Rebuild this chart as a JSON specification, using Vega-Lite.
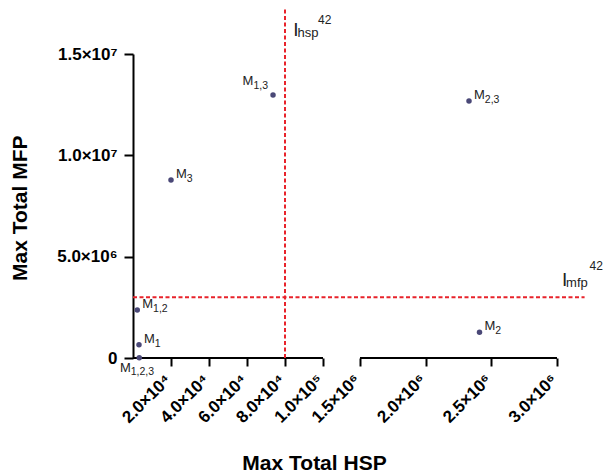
{
  "$schema": "https://vega.github.io/schema/vega-lite/v6.json",
  "width": 424,
  "height": 304,
  "autosize": {"type": "none"},
  "padding": {"left": 133, "top": 54, "right": 46, "bottom": 116},
  "background": "white",
  "config": {"view": {"stroke": null}, "font": "Liberation Sans"},
  "datasets": {
    "points": [
      {"model": "M", "sub": "1,2,3", "hsp": 3300, "mfp": 10000},
      {"model": "M", "sub": "1", "hsp": 3150, "mfp": 650000},
      {"model": "M", "sub": "1,2", "hsp": 2250, "mfp": 2370000},
      {"model": "M", "sub": "3", "hsp": 20000, "mfp": 8780000},
      {"model": "M", "sub": "1,3", "hsp": 73700, "mfp": 12980000},
      {"model": "M", "sub": "2,3", "hsp": 2330000, "mfp": 12680000},
      {"model": "M", "sub": "2", "hsp": 2410000, "mfp": 1270000}
    ],
    "thresholds": [
      {"name": "I", "sub": "hsp", "sup": "42", "hsp": 80000, "hsp_end": 80000, "mfp": 0, "mfp_end": 17200000},
      {"name": "I", "sub": "mfp", "sup": "42", "hsp": 0, "hsp_end": 3210000, "mfp": 3000000, "mfp_end": 3000000}
    ],
    "axis_segments": [
      {"hsp": 0, "hsp_end": 100000, "mfp": 0},
      {"hsp": 1500000, "hsp_end": 3000000, "mfp": 0}
    ]
  },
  "encoding": {
    "x": {
      "field": "hsp",
      "type": "quantitative",
      "title": "Max Total HSP",
      "scale": {"type": "linear", "domain": [0, 100000, 1500000, 3000000], "range": [0, 190, 227, 424], "nice": false, "zero": false},
      "axis": {
        "values": [20000, 40000, 60000, 80000, 100000, 1500000, 2000000, 2500000, 3000000],
        "labelExpr": "datum.value == 20000 ? '2.0×10⁴' : datum.value == 40000 ? '4.0×10⁴' : datum.value == 60000 ? '6.0×10⁴' : datum.value == 80000 ? '8.0×10⁴' : datum.value == 100000 ? '1.0×10⁵' : datum.value == 1500000 ? '1.5×10⁶' : datum.value == 2000000 ? '2.0×10⁶' : datum.value == 2500000 ? '2.5×10⁶' : '3.0×10⁶'",
        "domain": false,
        "grid": false,
        "ticks": true,
        "tickSize": 8,
        "tickWidth": 2,
        "tickColor": "black",
        "labelAngle": -45,
        "labelAlign": "right",
        "labelBaseline": "middle",
        "labelPadding": 11,
        "labelOffset": -3,
        "labelFlush": false,
        "labelOverlap": false,
        "labelFont": "Liberation Sans",
        "labelFontWeight": "bold",
        "labelFontSize": 17,
        "labelColor": "black",
        "titleFont": "Liberation Sans",
        "titleFontSize": 21,
        "titleFontWeight": "bold",
        "titleColor": "black",
        "titleX": 181,
        "titleY": 111,
        "titleAlign": "center",
        "titleBaseline": "alphabetic"
      }
    },
    "y": {
      "field": "mfp",
      "type": "quantitative",
      "title": "Max Total MFP",
      "scale": {"domain": [0, 15000000], "nice": false, "zero": true},
      "axis": {
        "values": [0, 5000000, 10000000, 15000000],
        "labelExpr": "datum.value == 0 ? '0' : datum.value == 5000000 ? '5.0×10⁶' : datum.value == 10000000 ? '1.0×10⁷' : '1.5×10⁷'",
        "grid": false,
        "domainColor": "black",
        "domainWidth": 2,
        "tickSize": 9,
        "tickWidth": 2,
        "tickColor": "black",
        "labelPadding": 7,
        "labelFlush": false,
        "labelOverlap": false,
        "labelFont": "Liberation Sans",
        "labelFontWeight": "bold",
        "labelFontSize": 17,
        "labelColor": "black",
        "titleFont": "Liberation Sans",
        "titleFontSize": 21,
        "titleFontWeight": "bold",
        "titleColor": "black",
        "titleX": -107,
        "titleY": 153.7,
        "titleAlign": "center",
        "titleBaseline": "alphabetic"
      }
    }
  },
  "layer": [
    {
      "data": {"name": "axis_segments"},
      "mark": {"type": "rule", "color": "black", "strokeWidth": 2},
      "encoding": {
        "x2": {"field": "hsp_end"}
      }
    },
    {
      "data": {"name": "thresholds"},
      "mark": {"type": "rule", "color": "#e8232b", "strokeWidth": 2, "strokeDash": [4, 2.5]},
      "encoding": {
        "x2": {"field": "hsp_end"},
        "y2": {"field": "mfp_end"}
      }
    },
    {
      "data": {"name": "points"},
      "mark": {"type": "circle", "size": 30, "color": "#4a4877", "opacity": 1},
      "encoding": {}
    },
    {
      "data": {"name": "points"},
      "transform": [{"filter": "datum.sub != '1,3' && datum.sub != '1,2,3'"}],
      "mark": {"type": "text", "align": "left", "baseline": "alphabetic", "dx": 5, "dy": -2, "fontSize": 13, "font": "Liberation Sans", "color": "#222222"},
      "encoding": {"text": {"field": "model"}}
    },
    {
      "data": {"name": "points"},
      "transform": [{"filter": "datum.sub != '1,3' && datum.sub != '1,2,3'"}],
      "mark": {"type": "text", "align": "left", "baseline": "alphabetic", "dx": 15.8, "dy": 2, "fontSize": 10.5, "font": "Liberation Sans", "color": "#222222"},
      "encoding": {"text": {"field": "sub"}}
    },
    {
      "data": {"name": "points"},
      "transform": [{"filter": "datum.sub == '1,3'"}],
      "mark": {"type": "text", "align": "right", "baseline": "alphabetic", "dx": -19.6, "dy": -10, "fontSize": 13, "font": "Liberation Sans", "color": "#222222"},
      "encoding": {"text": {"field": "model"}}
    },
    {
      "data": {"name": "points"},
      "transform": [{"filter": "datum.sub == '1,3'"}],
      "mark": {"type": "text", "align": "right", "baseline": "alphabetic", "dx": -5, "dy": -6, "fontSize": 10.5, "font": "Liberation Sans", "color": "#222222"},
      "encoding": {"text": {"field": "sub"}}
    },
    {
      "data": {"name": "points"},
      "transform": [{"filter": "datum.sub == '1,2,3'"}],
      "mark": {"type": "text", "align": "left", "baseline": "alphabetic", "dx": -19.3, "dy": 14, "fontSize": 13, "font": "Liberation Sans", "color": "#222222"},
      "encoding": {"text": {"field": "model"}}
    },
    {
      "data": {"name": "points"},
      "transform": [{"filter": "datum.sub == '1,2,3'"}],
      "mark": {"type": "text", "align": "left", "baseline": "alphabetic", "dx": -8.5, "dy": 17.5, "fontSize": 10.5, "font": "Liberation Sans", "color": "#222222"},
      "encoding": {"text": {"field": "sub"}}
    },
    {
      "data": {"name": "thresholds"},
      "transform": [{"filter": "datum.sub == 'hsp'"}],
      "mark": {"type": "text", "align": "left", "baseline": "alphabetic", "dx": 8.2, "dy": 26.5, "fontSize": 19, "font": "Liberation Sans", "color": "#222222"},
      "encoding": {
        "x": {"field": "hsp_end", "type": "quantitative", "title": "Max Total HSP"},
        "y": {"field": "mfp_end", "type": "quantitative", "title": "Max Total MFP"},
        "text": {"field": "name"}
      }
    },
    {
      "data": {"name": "thresholds"},
      "transform": [{"filter": "datum.sub == 'hsp'"}],
      "mark": {"type": "text", "align": "left", "baseline": "alphabetic", "dx": 12.4, "dy": 27.5, "fontSize": 13, "font": "Liberation Sans", "color": "#222222"},
      "encoding": {
        "x": {"field": "hsp_end", "type": "quantitative", "title": "Max Total HSP"},
        "y": {"field": "mfp_end", "type": "quantitative", "title": "Max Total MFP"},
        "text": {"field": "sub"}
      }
    },
    {
      "data": {"name": "thresholds"},
      "transform": [{"filter": "datum.sub == 'hsp'"}],
      "mark": {"type": "text", "align": "left", "baseline": "alphabetic", "dx": 33, "dy": 15, "fontSize": 12, "font": "Liberation Sans", "color": "#222222"},
      "encoding": {
        "x": {"field": "hsp_end", "type": "quantitative", "title": "Max Total HSP"},
        "y": {"field": "mfp_end", "type": "quantitative", "title": "Max Total MFP"},
        "text": {"field": "sup"}
      }
    },
    {
      "data": {"name": "thresholds"},
      "transform": [{"filter": "datum.sub == 'mfp'"}],
      "mark": {"type": "text", "align": "left", "baseline": "alphabetic", "dx": -22.5, "dy": -11, "fontSize": 19, "font": "Liberation Sans", "color": "#222222"},
      "encoding": {
        "x": {"field": "hsp_end", "type": "quantitative", "title": "Max Total HSP"},
        "y": {"field": "mfp_end", "type": "quantitative", "title": "Max Total MFP"},
        "text": {"field": "name"}
      }
    },
    {
      "data": {"name": "thresholds"},
      "transform": [{"filter": "datum.sub == 'mfp'"}],
      "mark": {"type": "text", "align": "left", "baseline": "alphabetic", "dx": -18.5, "dy": -10, "fontSize": 13, "font": "Liberation Sans", "color": "#222222"},
      "encoding": {
        "x": {"field": "hsp_end", "type": "quantitative", "title": "Max Total HSP"},
        "y": {"field": "mfp_end", "type": "quantitative", "title": "Max Total MFP"},
        "text": {"field": "sub"}
      }
    },
    {
      "data": {"name": "thresholds"},
      "transform": [{"filter": "datum.sub == 'mfp'"}],
      "mark": {"type": "text", "align": "left", "baseline": "alphabetic", "dx": 5, "dy": -27.5, "fontSize": 12, "font": "Liberation Sans", "color": "#222222"},
      "encoding": {
        "x": {"field": "hsp_end", "type": "quantitative", "title": "Max Total HSP"},
        "y": {"field": "mfp_end", "type": "quantitative", "title": "Max Total MFP"},
        "text": {"field": "sup"}
      }
    }
  ]
}
